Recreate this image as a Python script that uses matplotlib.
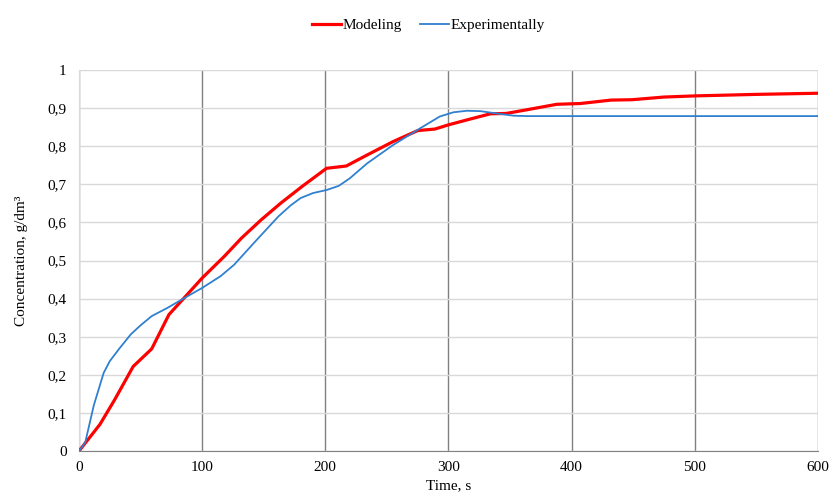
import matplotlib.pyplot as plt

plt.rcParams['font.family'] = ['Liberation Serif', 'DejaVu Serif']

# Modeling (red)
mod_t = [0, 17, 29, 44, 59, 73, 84, 100, 118, 132, 148, 164, 181, 201, 217,
         234, 255, 275, 289, 300, 315, 334, 347, 366, 388, 407, 432, 449,
         475, 500, 550, 600]
mod_c = [0, 0.07, 0.135, 0.222, 0.268, 0.358, 0.397, 0.454, 0.511, 0.559,
         0.607, 0.651, 0.694, 0.742, 0.748, 0.777, 0.812, 0.841, 0.845,
         0.856, 0.869, 0.885, 0.886, 0.897, 0.910, 0.912, 0.921, 0.922,
         0.929, 0.932, 0.936, 0.939]

# Experimentally (blue)
exp_t = [0, 5, 12, 20, 25, 33, 42, 50, 59, 72, 88, 100, 115, 126, 142, 162,
         172, 180, 190, 201, 211, 220, 234, 255, 277, 293, 304, 315, 326,
         339, 353, 365, 400, 500, 600]
exp_c = [0, 0.022, 0.12, 0.205, 0.236, 0.27, 0.306, 0.33, 0.354, 0.376,
         0.406, 0.428, 0.459, 0.489, 0.546, 0.616, 0.645, 0.664, 0.677,
         0.685, 0.696, 0.716, 0.755, 0.803, 0.847, 0.878, 0.889, 0.893,
         0.892, 0.886, 0.880, 0.879, 0.879, 0.879, 0.879]

fig = plt.figure(figsize=(8.32, 5.0), dpi=100)
ax = fig.add_axes([0.095, 0.098, 0.888, 0.762])

ax.plot(mod_t, mod_c, color='#ff0000', lw=2.3, label='Modeling', zorder=3)
ax.plot(exp_t, exp_c, color='#2f80d0', lw=1.3, label='Experimentally', zorder=4)

ax.set_xlim(0, 600)
ax.set_ylim(0, 1)
ax.set_xticks(range(0, 601, 100))
ax.set_yticks([i / 10 for i in range(11)])
ax.set_yticklabels(['0'] + ['0,%d' % i for i in range(1, 10)] + ['1'])
ax.tick_params(length=0, labelsize=11)
ax.tick_params(axis='y', pad=9)
ax.tick_params(axis='x', pad=7)

ax.grid(axis='y', color='#d9d9d9', lw=1)
ax.grid(axis='x', color='#808080', lw=1)
ax.set_axisbelow(True)
for s in ['top', 'right']:
    ax.spines[s].set_visible(False)
ax.spines['left'].set_color('#d9d9d9')
ax.spines['bottom'].set_color('#808080')

ax.set_xlabel('Time, s', fontsize=11, labelpad=4)
ax.set_ylabel('Concentration, g/dm³', fontsize=11, labelpad=14)

fig.legend(loc='upper center', bbox_to_anchor=(0.515, 0.99), ncol=2,
           frameon=False, fontsize=11, handlelength=1.9, handletextpad=0.1,
           columnspacing=1.2)

fig.savefig('out.png', dpi=100)
